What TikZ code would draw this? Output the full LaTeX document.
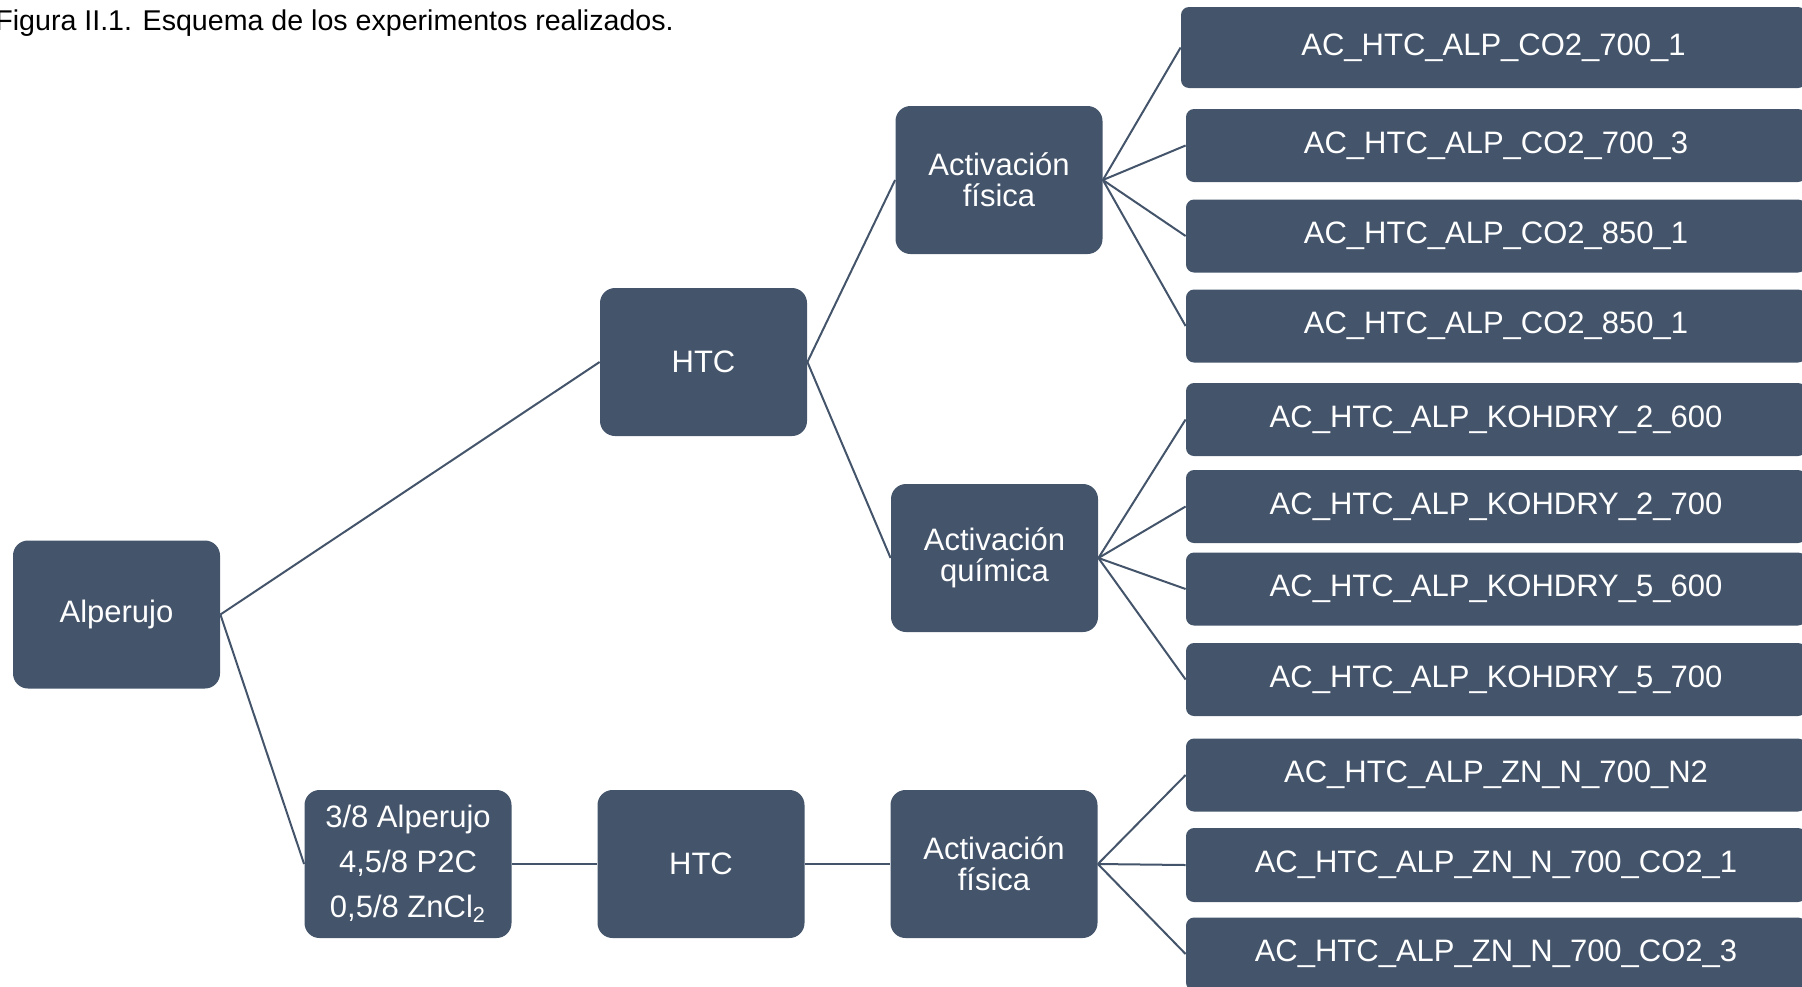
\documentclass[tikz,border=0pt]{standalone}
\usepackage{fontspec}
\setmainfont{Liberation Sans}
\definecolor{boxc}{HTML}{44546A}
\begin{document}
\begin{tikzpicture}[x=0.5pt,y=-0.5pt,
  box/.style={fill=boxc, text=white, align=center, inner sep=0pt,
    font=\fontsize{15.5pt}{15.5pt}\selectfont},
  mid/.style={box, rounded corners=7.5pt, minimum width=103.5pt, minimum height=74pt},
  leaf/.style={box, rounded corners=4pt, minimum width=310pt, minimum height=36.5pt},
  conn/.style={draw=boxc, line width=1pt}]
\useasboundingbox (0,0) rectangle (1802,986);
\node[anchor=base west, inner sep=0pt, font=\fontsize{14.3pt}{16pt}\selectfont] (title) at (-5,30)
  {Figura II.1. Esquema de los experimentos realizados.};
% main nodes
\node[mid] (alp) at (116.5,614.5) {Alperujo};
\node[mid] (htc1) at (703.5,362) {HTC};
\node[mid] (af1) at (999,180) {Activación\\física};
\node[mid] (aq) at (994.5,558) {Activación\\química};
\node[mid, font=\fontsize{15.5pt}{22.5pt}\selectfont] (mix) at (408,864)
  {3/8 Alperujo\\4,5/8 P2C\\0,5/8 ZnCl\textsubscript{2}};
\node[mid] (htc2) at (701,864) {HTC};
\node[mid] (af2) at (994,864) {Activación\\física};
% leaves
\node[leaf, minimum width=312.5pt, minimum height=40.5pt] (l1) at (1493.5,47.5) {AC\_HTC\_ALP\_CO2\_700\_1};
\node[leaf] (l2) at (1496,145.5) {AC\_HTC\_ALP\_CO2\_700\_3};
\node[leaf] (l3) at (1496,236) {AC\_HTC\_ALP\_CO2\_850\_1};
\node[leaf] (l4) at (1496,326) {AC\_HTC\_ALP\_CO2\_850\_1};
\node[leaf] (l5) at (1496,419.5) {AC\_HTC\_ALP\_KOHDRY\_2\_600};
\node[leaf] (l6) at (1496,506.5) {AC\_HTC\_ALP\_KOHDRY\_2\_700};
\node[leaf] (l7) at (1496,589) {AC\_HTC\_ALP\_KOHDRY\_5\_600};
\node[leaf] (l8) at (1496,679.5) {AC\_HTC\_ALP\_KOHDRY\_5\_700};
\node[leaf] (l9) at (1496,775) {AC\_HTC\_ALP\_ZN\_N\_700\_N2};
\node[leaf, minimum height=37pt] (l10) at (1496,865) {AC\_HTC\_ALP\_ZN\_N\_700\_CO2\_1};
\node[leaf] (l11) at (1496,954) {AC\_HTC\_ALP\_ZN\_N\_700\_CO2\_3};
% connectors
\draw[conn] (alp.east) -- (htc1.west);
\draw[conn] (alp.east) -- (mix.west);
\draw[conn] (htc1.east) -- (af1.west);
\draw[conn] (htc1.east) -- (aq.west);
\draw[conn] (mix.east) -- (htc2.west);
\draw[conn] (htc2.east) -- (af2.west);
\foreach \n in {l1,l2,l3,l4} \draw[conn] (af1.east) -- (\n.west);
\foreach \n in {l5,l6,l7,l8} \draw[conn] (aq.east) -- (\n.west);
\foreach \n in {l9,l10,l11} \draw[conn] (af2.east) -- (\n.west);
\end{tikzpicture}
\end{document}
